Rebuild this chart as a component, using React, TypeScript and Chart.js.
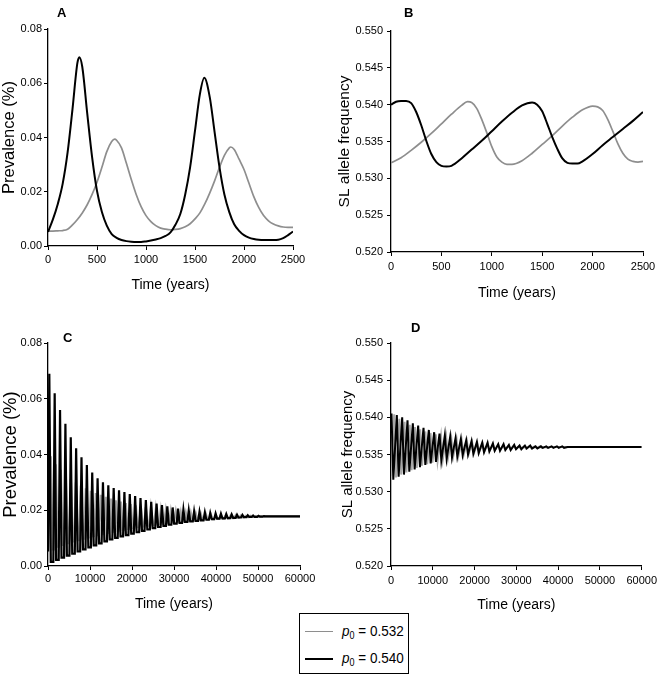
import React, { useEffect, useRef } from 'react';
import { Chart, registerables } from 'chart.js';

Chart.register(...registerables);

const SANS = "'Liberation Sans', Arial, sans-serif";
const GRAY = '#8e8e8e';
const LIGHT = '#a8a8a8';
const BLACK = '#000000';

// ---------- Panel A : prevalence, 0-2500 years ----------
const A_BLACK_T = [0, 50, 100, 150, 200, 250, 300, 320, 350, 400, 450, 500, 550, 600, 650, 700, 750, 800, 850, 900, 950, 1000, 1050, 1100, 1150, 1200, 1250, 1300, 1350, 1400, 1450, 1500, 1550, 1595, 1650, 1700, 1750, 1800, 1850, 1900, 1950, 2000, 2050, 2100, 2150, 2200, 2250, 2300, 2350, 2400, 2450, 2500];
const A_BLACK_V = [0.0052, 0.0098, 0.0155, 0.0230, 0.0345, 0.0505, 0.0675, 0.0696, 0.0660, 0.0490, 0.0328, 0.0203, 0.0125, 0.0075, 0.0044, 0.0030, 0.0022, 0.0018, 0.0016, 0.0015, 0.0015, 0.0017, 0.0020, 0.0024, 0.0029, 0.0037, 0.0050, 0.0078, 0.0118, 0.0190, 0.0290, 0.0425, 0.0560, 0.0620, 0.0550, 0.0420, 0.0290, 0.0190, 0.0125, 0.0080, 0.0056, 0.0040, 0.0031, 0.0026, 0.0023, 0.0022, 0.0022, 0.0022, 0.0023, 0.0029, 0.0040, 0.0053];
const A_GRAY_T = [0, 50, 100, 150, 200, 250, 300, 350, 400, 450, 500, 550, 600, 650, 680, 700, 750, 800, 850, 900, 950, 1000, 1050, 1100, 1150, 1200, 1250, 1300, 1350, 1400, 1450, 1500, 1550, 1600, 1650, 1700, 1750, 1800, 1850, 1865, 1900, 1950, 2000, 2050, 2100, 2150, 2200, 2250, 2300, 2350, 2400, 2450, 2500];
const A_GRAY_V = [0.0055, 0.0055, 0.0056, 0.0057, 0.0062, 0.0078, 0.0098, 0.0122, 0.0152, 0.0190, 0.0235, 0.0290, 0.0348, 0.0385, 0.0394, 0.0390, 0.0362, 0.0305, 0.0245, 0.0190, 0.0145, 0.0112, 0.0090, 0.0075, 0.0066, 0.0062, 0.0060, 0.0061, 0.0064, 0.0071, 0.0082, 0.0100, 0.0122, 0.0155, 0.0195, 0.0240, 0.0290, 0.0334, 0.0362, 0.0365, 0.0356, 0.0320, 0.0282, 0.0232, 0.0182, 0.0142, 0.0112, 0.0093, 0.0081, 0.0074, 0.0070, 0.0069, 0.0069];

// ---------- Panel B : SL allele frequency, 0-2500 years ----------
const B_BLACK_T = [0, 50, 100, 150, 200, 250, 300, 350, 400, 450, 500, 550, 600, 700, 800, 900, 1000, 1100, 1200, 1300, 1400, 1450, 1500, 1550, 1600, 1650, 1700, 1750, 1800, 1850, 1900, 2000, 2100, 2200, 2300, 2400, 2500];
const B_BLACK_V = [0.5400, 0.5404, 0.5405, 0.5405, 0.5402, 0.5390, 0.5372, 0.5351, 0.5333, 0.5322, 0.5317, 0.5316, 0.5317, 0.5327, 0.5339, 0.5351, 0.5364, 0.5377, 0.5389, 0.5399, 0.5403, 0.5400, 0.5391, 0.5374, 0.5356, 0.5340, 0.5327, 0.5321, 0.5320, 0.5320, 0.5323, 0.5333, 0.5345, 0.5356, 0.5367, 0.5378, 0.5390];
const B_GRAY_T = [0, 100, 200, 300, 400, 500, 600, 700, 760, 800, 850, 900, 950, 1000, 1050, 1100, 1150, 1200, 1300, 1400, 1500, 1600, 1700, 1800, 1900, 2000, 2050, 2100, 2150, 2200, 2250, 2300, 2350, 2400, 2450, 2500];
const B_GRAY_V = [0.5321, 0.5328, 0.5338, 0.5349, 0.5361, 0.5374, 0.5387, 0.5399, 0.5404, 0.5403, 0.5395, 0.5380, 0.5362, 0.5343, 0.5329, 0.5322, 0.5319, 0.5319, 0.5324, 0.5334, 0.5346, 0.5358, 0.5371, 0.5383, 0.5393, 0.5398, 0.5397, 0.5392, 0.5380, 0.5364, 0.5347, 0.5334, 0.5326, 0.5323, 0.5322, 0.5323];

// ---------- Panel C : prevalence, 0-60000 years (one peak and one trough level per cycle) ----------
const C_BLACK_START = 0.0052;
const C_BLACK_PEAK_T0 = 313;
const C_BLACK_PERIOD = 1277;
const C_BLACK_RISE = 320;   // years from trough floor to peak
const C_BLACK_FALL = 350;   // years from peak back to trough floor
const C_BLACK_PEAKS = [0.0690, 0.0620, 0.0560, 0.0510, 0.0462, 0.0422, 0.0390, 0.0362, 0.0335, 0.0315, 0.0300, 0.0290, 0.0280, 0.0272, 0.0265, 0.0258, 0.0251, 0.0244, 0.0237, 0.0230, 0.0224, 0.0219, 0.0214, 0.0210, 0.0206, 0.0202, 0.0199, 0.0196, 0.0194, 0.0192, 0.0190, 0.0188, 0.0187, 0.0186, 0.0185, 0.0184, 0.0183, 0.0182, 0.0181, 0.0180, 0.0179];
const C_BLACK_TROUGHS = [0.0015, 0.0022, 0.0030, 0.0037, 0.0044, 0.0052, 0.0060, 0.0067, 0.0074, 0.0081, 0.0088, 0.0095, 0.0101, 0.0106, 0.0111, 0.0116, 0.0121, 0.0126, 0.0131, 0.0136, 0.0140, 0.0144, 0.0148, 0.0152, 0.0155, 0.0158, 0.0160, 0.0162, 0.0164, 0.0166, 0.0168, 0.0170, 0.0171, 0.0172, 0.0173, 0.0174, 0.0175, 0.0176, 0.0176, 0.0177];
const C_GRAY_START = 0.0055;
const C_GRAY_PEAK_T0 = 680;
const C_GRAY_PERIOD = 1190;
const C_GRAY_RISE = 450;
const C_GRAY_FALL = 420;
const C_GRAY_PEAKS = [0.0394, 0.0365, 0.0345, 0.0328, 0.0313, 0.0300, 0.0289, 0.0279, 0.0270, 0.0262, 0.0255, 0.0248, 0.0242, 0.0236, 0.0231, 0.0226, 0.0222, 0.0218, 0.0214, 0.0211, 0.0208, 0.0205, 0.0202, 0.0200, 0.0198, 0.0196, 0.0194, 0.0192, 0.0191, 0.0189, 0.0188, 0.0187, 0.0186, 0.0185, 0.0184, 0.0183, 0.0182, 0.0182, 0.0181, 0.0180, 0.0180, 0.0179, 0.0179];
const C_GRAY_TROUGHS = [0.0060, 0.0069, 0.0076, 0.0082, 0.0088, 0.0093, 0.0098, 0.0103, 0.0107, 0.0111, 0.0115, 0.0119, 0.0123, 0.0127, 0.0130, 0.0133, 0.0136, 0.0139, 0.0142, 0.0145, 0.0147, 0.0150, 0.0152, 0.0154, 0.0156, 0.0158, 0.0160, 0.0162, 0.0163, 0.0165, 0.0166, 0.0167, 0.0168, 0.0169, 0.0170, 0.0171, 0.0172, 0.0173, 0.0174, 0.0175, 0.0176, 0.0177];
const C_END = 0.0178;

// ---------- Panel D : SL allele frequency, 0-60000 years ----------
const D_BLACK_START = 0.5400;
const D_BLACK_PEAK_T0 = 120;
const D_BLACK_TROUGH_T0 = 550;
const D_BLACK_PERIOD = 1277;
const D_BLACK_PEAKS = [0.5405, 0.5403, 0.5400, 0.5396, 0.5392, 0.5389, 0.5386, 0.5383, 0.5380, 0.5378, 0.5376, 0.5374, 0.5372, 0.5371, 0.5369, 0.5368, 0.5367, 0.5366, 0.5366, 0.5365, 0.5364, 0.5364, 0.5363, 0.5363, 0.5362, 0.5362, 0.5362, 0.5361, 0.5361, 0.5361, 0.5361, 0.5361, 0.5361, 0.5360, 0.5360, 0.5360, 0.5360, 0.5360, 0.5360, 0.5360, 0.5360];
const D_BLACK_TROUGHS = [0.5316, 0.5320, 0.5323, 0.5327, 0.5330, 0.5333, 0.5336, 0.5338, 0.5340, 0.5342, 0.5344, 0.5346, 0.5347, 0.5349, 0.5350, 0.5351, 0.5352, 0.5353, 0.5354, 0.5355, 0.5355, 0.5356, 0.5356, 0.5357, 0.5357, 0.5358, 0.5358, 0.5358, 0.5359, 0.5359, 0.5359, 0.5359, 0.5359, 0.5360, 0.5360, 0.5360, 0.5360, 0.5360, 0.5360, 0.5360];
const D_GRAY_START = 0.5321;
const D_GRAY_PEAK_T0 = 760;
const D_GRAY_TROUGH_T0 = 1190;
const D_GRAY_PERIOD = 1245;
const D_GRAY_PEAKS = [0.5404, 0.5398, 0.5394, 0.5390, 0.5387, 0.5384, 0.5381, 0.5379, 0.5377, 0.5375, 0.5373, 0.5371, 0.5370, 0.5368, 0.5367, 0.5366, 0.5365, 0.5365, 0.5364, 0.5363, 0.5363, 0.5362, 0.5362, 0.5362, 0.5361, 0.5361, 0.5361, 0.5361, 0.5361, 0.5360, 0.5360, 0.5360, 0.5360, 0.5360, 0.5360, 0.5360, 0.5360, 0.5360, 0.5360, 0.5360, 0.5360];
const D_GRAY_TROUGHS = [0.5319, 0.5323, 0.5326, 0.5329, 0.5332, 0.5335, 0.5337, 0.5339, 0.5341, 0.5343, 0.5345, 0.5347, 0.5348, 0.5349, 0.5351, 0.5352, 0.5353, 0.5354, 0.5355, 0.5355, 0.5356, 0.5357, 0.5357, 0.5358, 0.5358, 0.5358, 0.5359, 0.5359, 0.5359, 0.5359, 0.5360, 0.5360, 0.5360, 0.5360, 0.5360, 0.5360, 0.5360, 0.5360, 0.5360, 0.5360];
const D_END = 0.5360;

const LONG_END = 60000;
const LEGEND_LABELS = ['0.532', '0.540'];

type P = { x: number; y: number };

function pts(t: number[], v: number[]): P[] {
  return t.map((x, i) => ({ x, y: v[i] }));
}

// zig-zag through alternating peaks and troughs
function cycles(start: number, peaks: number[], pT0: number, troughs: number[], tT0: number, period: number, endV: number): P[] {
  const arr: P[] = [{ x: 0, y: start }];
  peaks.forEach((v, k) => arr.push({ x: pT0 + k * period, y: v }));
  troughs.forEach((v, k) => arr.push({ x: tT0 + k * period, y: v }));
  arr.sort((a, b) => a.x - b.x);
  arr.push({ x: LONG_END, y: endV });
  return arr;
}

// narrow peaks separated by a flat trough floor (prevalence epidemics)
function spikes(start: number, peaks: number[], pT0: number, period: number, troughs: number[], rise: number, fall: number, endV: number): P[] {
  const arr: P[] = [{ x: 0, y: start }];
  peaks.forEach((v, k) => {
    const t = pT0 + k * period;
    if (k > 0 && t - rise > 0) arr.push({ x: t - rise, y: troughs[k - 1] });
    arr.push({ x: t, y: v });
    arr.push({ x: t + fall, y: k < troughs.length ? troughs[k] : endV });
  });
  arr.push({ x: LONG_END, y: endV });
  return arr;
}

type PanelCfg = {
  left: number; top: number; w: number; h: number;
  padTop: number; padRight: number; yWidth: number; xHeight: number;
  xMax: number; xStep: number; yMin: number; yMax: number; yStep: number; yDec: number;
  yTitle: string; yTitleSize: number; yTitlePad: number; xTitlePad: number;
  xTickPad: number; yTickPad: number;
  datasets: any[];
};

function Panel({ cfg }: { cfg: PanelCfg }) {
  const ref = useRef<HTMLCanvasElement>(null);
  useEffect(() => {
    const chart = new Chart(ref.current as HTMLCanvasElement, {
      type: 'line',
      data: { datasets: cfg.datasets },
      options: {
        animation: false,
        responsive: false,
        events: [],
        layout: { padding: { top: cfg.padTop, right: cfg.padRight, left: 0, bottom: 0 } },
        plugins: { legend: { display: false }, tooltip: { enabled: false }, title: { display: false } },
        elements: { point: { radius: 0 } },
        scales: {
          x: {
            type: 'linear',
            position: 'bottom',
            min: 0,
            max: cfg.xMax,
            ticks: {
              stepSize: cfg.xStep,
              color: BLACK,
              font: { family: SANS, size: 11 },
              padding: cfg.xTickPad,
              maxRotation: 0,
              autoSkip: false,
              callback: (v: any) => String(v),
            },
            grid: { display: true, drawOnChartArea: false, drawTicks: true, tickLength: 4, color: BLACK, lineWidth: 1 },
            border: { display: true, color: BLACK, width: 1.3 },
            title: {
              display: true,
              text: 'Time (years)',
              color: BLACK,
              font: { family: SANS, size: 14 },
              padding: { top: 0, bottom: cfg.xTitlePad },
            },
            afterFit: (s: any) => { s.height = cfg.xHeight; },
          },
          y: {
            type: 'linear',
            position: 'left',
            min: cfg.yMin,
            max: cfg.yMax,
            ticks: {
              stepSize: cfg.yStep,
              color: BLACK,
              font: { family: SANS, size: 11 },
              padding: cfg.yTickPad,
              callback: (v: any) => Number(v).toFixed(cfg.yDec),
            },
            grid: { display: true, drawOnChartArea: false, drawTicks: true, tickLength: 4, color: BLACK, lineWidth: 1 },
            border: { display: true, color: BLACK, width: 1.3 },
            title: {
              display: true,
              text: cfg.yTitle,
              color: BLACK,
              font: { family: SANS, size: cfg.yTitleSize },
              padding: { top: cfg.yTitlePad, bottom: 0 },
            },
            afterFit: (s: any) => { s.width = cfg.yWidth; },
          },
        },
      } as any,
    });
    return () => chart.destroy();
  }, []);
  return (
    <canvas
      ref={ref}
      width={cfg.w}
      height={cfg.h}
      style={{ position: 'absolute', left: cfg.left, top: cfg.top, width: cfg.w, height: cfg.h, display: 'block' }}
    />
  );
}

function smooth(data: P[], color: string, width: number) {
  return { data, borderColor: color, borderWidth: width, cubicInterpolationMode: 'monotone', pointRadius: 0, fill: false };
}
function zig(data: P[], color: string, width: number) {
  return { data, borderColor: color, borderWidth: width, tension: 0, pointRadius: 0, fill: false };
}

const panels: PanelCfg[] = [
  {
    left: 0, top: 0, w: 330, h: 310, padTop: 29, padRight: 37, yWidth: 48, xHeight: 64,
    xMax: 2500, xStep: 500, yMin: 0, yMax: 0.08, yStep: 0.02, yDec: 2,
    yTitle: 'Prevalence (%)', yTitleSize: 16.5, yTitlePad: 0, xTitlePad: 16, xTickPad: 3, yTickPad: 2,
    datasets: [smooth(pts(A_BLACK_T, A_BLACK_V), BLACK, 2), smooth(pts(A_GRAY_T, A_GRAY_V), GRAY, 1.7)],
  },
  {
    left: 330, top: 0, w: 331, h: 310, padTop: 31, padRight: 18, yWidth: 61, xHeight: 58,
    xMax: 2500, xStep: 500, yMin: 0.52, yMax: 0.55, yStep: 0.005, yDec: 3,
    yTitle: 'SL allele frequency', yTitleSize: 15.5, yTitlePad: 5.5, xTitlePad: 8, xTickPad: 4, yTickPad: 4,
    datasets: [smooth(pts(B_BLACK_T, B_BLACK_V), BLACK, 2), smooth(pts(B_GRAY_T, B_GRAY_V), GRAY, 1.7)],
  },
  {
    left: 0, top: 300, w: 330, h: 330, padTop: 43, padRight: 30, yWidth: 48, xHeight: 64,
    xMax: 60000, xStep: 10000, yMin: 0, yMax: 0.08, yStep: 0.02, yDec: 2,
    yTitle: 'Prevalence (%)', yTitleSize: 18.5, yTitlePad: 0, xTitlePad: 17, xTickPad: 2, yTickPad: 2,
    datasets: [
      zig(spikes(C_BLACK_START, C_BLACK_PEAKS, C_BLACK_PEAK_T0, C_BLACK_PERIOD, C_BLACK_TROUGHS, C_BLACK_RISE, C_BLACK_FALL, C_END), BLACK, 2.2),
      zig(spikes(C_GRAY_START, C_GRAY_PEAKS, C_GRAY_PEAK_T0, C_GRAY_PERIOD, C_GRAY_TROUGHS, C_GRAY_RISE, C_GRAY_FALL, C_END), LIGHT, 2.2),
    ],
  },
  {
    left: 330, top: 300, w: 331, h: 330, padTop: 43, padRight: 18, yWidth: 61, xHeight: 64,
    xMax: 60000, xStep: 10000, yMin: 0.52, yMax: 0.55, yStep: 0.005, yDec: 3,
    yTitle: 'SL allele frequency', yTitleSize: 15, yTitlePad: 8.5, xTitlePad: 16, xTickPad: 4, yTickPad: 4,
    datasets: [
      zig(cycles(D_BLACK_START, D_BLACK_PEAKS, D_BLACK_PEAK_T0, D_BLACK_TROUGHS, D_BLACK_TROUGH_T0, D_BLACK_PERIOD, D_END), BLACK, 2),
      zig(cycles(D_GRAY_START, D_GRAY_PEAKS, D_GRAY_PEAK_T0, D_GRAY_TROUGHS, D_GRAY_TROUGH_T0, D_GRAY_PERIOD, D_END), LIGHT, 2),
    ],
  },
];

const letterStyle = (left: number, top: number): React.CSSProperties => ({
  position: 'absolute', left, top, fontFamily: SANS, fontWeight: 900, fontSize: 13, lineHeight: '13px', color: '#000',
});

export default function App() {
  return (
    <div style={{ position: 'absolute', left: 0, top: 0, width: 661, height: 680, background: '#fff', overflow: 'hidden' }}>
      {panels.map((p, i) => <Panel key={i} cfg={p} />)}
      <div style={letterStyle(57, 6)}>A</div>
      <div style={letterStyle(404, 6)}>B</div>
      <div style={letterStyle(63, 331)}>C</div>
      <div style={letterStyle(411, 321)}>D</div>
      <div style={{ position: 'absolute', left: 299, top: 613, width: 110, height: 61, border: '1.5px solid #000', boxSizing: 'border-box', background: '#fff' }}>
        {LEGEND_LABELS.map((lab, i) => (
          <React.Fragment key={lab}>
            <div style={{ position: 'absolute', left: 5, top: 17 + i * 27, width: 28, height: 0, borderTop: `${i === 0 ? 1.5 : 2}px solid ${i === 0 ? GRAY : BLACK}` }} />
            <div style={{ position: 'absolute', left: 42, top: 9 + i * 27, height: 16, lineHeight: '16px', fontFamily: SANS, fontSize: 15, color: '#000', whiteSpace: 'nowrap', transform: 'scaleX(0.9)', transformOrigin: 'left center' }}>
              <i>p</i><sub style={{ fontSize: 10, verticalAlign: '-3px' }}>0</sub> = {lab}
            </div>
          </React.Fragment>
        ))}
      </div>
    </div>
  );
}
